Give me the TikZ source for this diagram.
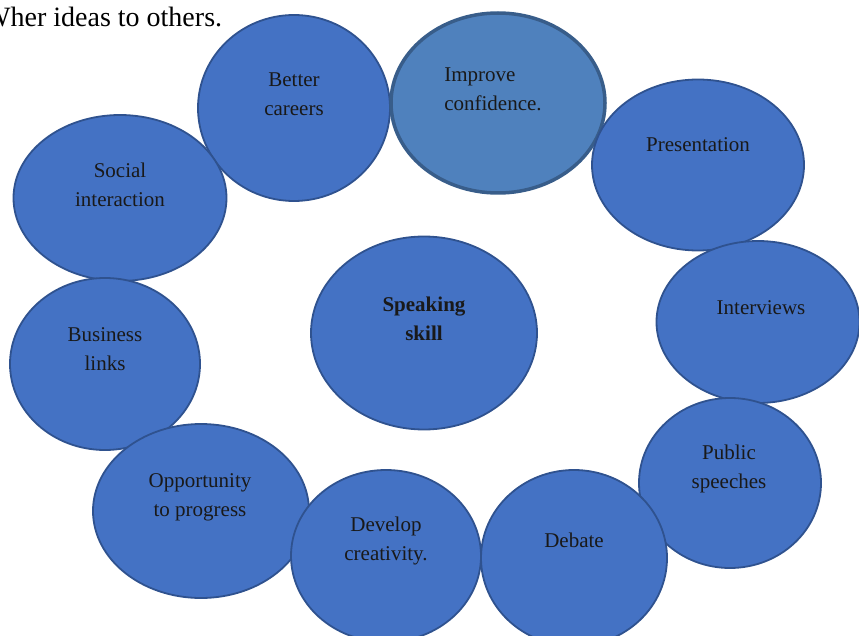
\documentclass[tikz,border=0pt]{standalone}
\usepackage{fontspec}
\setmainfont{Liberation Serif}
\usetikzlibrary{shapes.geometric}
\definecolor{bubblefill}{HTML}{4472C4}
\definecolor{bubbleline}{HTML}{2F528F}
\definecolor{softfill}{HTML}{4F81BD}
\definecolor{softline}{HTML}{385D8A}

\begin{document}
\begin{tikzpicture}[x=1pt, y=-1pt,
    bubble/.style={draw=bubbleline, fill=bubblefill, line width=1.8pt, shape=ellipse, inner sep=0pt},
    words/.style={align=center, font=\fontsize{21}{29}\selectfont, text=black!90}]
  \useasboundingbox (0,0) rectangle (859,636);
  \node (line) [anchor=base west, inner sep=0pt, font=\fontsize{28}{32}\selectfont] at (-16,27) {Wher ideas to others.};

  \node (careers) [bubble, minimum width=192pt, minimum height=186pt] at (294,108) {};
  \node (confidence) [bubble, draw=softline, fill=softfill, line width=3.5pt, minimum width=214pt, minimum height=180pt] at (498,103) {};
  \node (social) [bubble, minimum width=213pt, minimum height=166pt] at (120,198) {};
  \node (presentation) [bubble, minimum width=212pt, minimum height=171pt] at (698,165) {};
  \node (interviews) [bubble, minimum width=203pt, minimum height=162pt] at (758,322) {};
  \node (business) [bubble, minimum width=190pt, minimum height=172pt] at (105,364) {};
  \node (speaking) [bubble, minimum width=226pt, minimum height=193pt] at (424,333) {};
  \node (progress) [bubble, minimum width=216pt, minimum height=174pt] at (201,511) {};
  \node (speeches) [bubble, minimum width=182pt, minimum height=170pt] at (730,483) {};
  \node (creativity) [bubble, minimum width=190pt, minimum height=172pt] at (386,556) {};
  \node (debate) [bubble, minimum width=186pt, minimum height=176pt] at (574,558) {};

  % texts sit in the upper half of each bubble
  \node (careerstext) [words] at (294,94.5) {Better\\careers};
  \node (confidencetext) [words, align=left] at (493,89.5) {Improve\\confidence.};
  \node (socialtext) [words] at (120,184.5) {Social\\interaction};
  \node (presentationtext) [words] at (698,145) {Presentation};
  \node (interviewstext) [words] at (761,308) {Interviews};
  \node (businesstext) [words] at (105,349.5) {Business\\links};
  \node (speakingtext) [words, font=\fontsize{21}{29}\selectfont\bfseries] at (424,319) {Speaking\\skill};
  \node (progresstext) [words] at (200,497.5) {Opportunity\\to progress};
  \node (speechestext) [words] at (729,468.5) {Public\\speeches};
  \node (creativitytext) [words] at (386,540.5) {Develop\\creativity.};
  \node (debatetext) [words] at (574,540) {Debate};
\end{tikzpicture}
\end{document}
